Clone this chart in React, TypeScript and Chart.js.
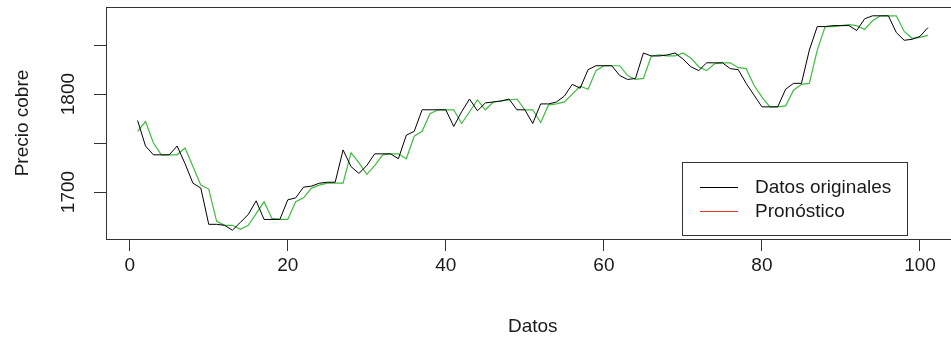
import React, { useEffect, useRef } from "react";
import { Chart, registerables } from "chart.js";

Chart.register(...registerables);

// Serie original (precio del cobre), índices 1..101
const ORIGINAL: number[] = [
  1773, 1747, 1738, 1738, 1738, 1747, 1729, 1709, 1704, 1667,
  1667, 1666, 1661, 1669, 1677, 1691, 1672, 1672, 1672, 1692,
  1694, 1705, 1706, 1709, 1710, 1710, 1743, 1726, 1719, 1727,
  1739, 1739, 1739, 1734, 1758, 1762, 1784, 1784, 1784, 1784,
  1767, 1782, 1795, 1783, 1791, 1792, 1793, 1795, 1784, 1784,
  1770, 1790, 1790, 1792, 1798, 1810, 1806, 1825, 1829, 1829,
  1829, 1819, 1815, 1816, 1842, 1839, 1839, 1840, 1842, 1836,
  1828, 1824, 1832, 1832, 1832, 1826, 1825, 1811, 1799, 1787,
  1787, 1787, 1805, 1811, 1811, 1845, 1869, 1869, 1870, 1870,
  1870, 1865, 1877, 1880, 1880, 1880, 1863, 1855, 1856, 1859,
  1868,
];

// Pronóstico
const FORECAST: number[] = [
  1762, 1772, 1750, 1738, 1738, 1738, 1745, 1726, 1707, 1703,
  1670, 1666, 1666, 1662, 1666, 1678, 1690, 1673, 1672, 1672,
  1690, 1694, 1704, 1707, 1709, 1709, 1709, 1740, 1730, 1718,
  1727, 1738, 1739, 1739, 1734, 1757, 1762, 1780, 1784, 1784,
  1784, 1770, 1782, 1794, 1784, 1792, 1793, 1794, 1795, 1784,
  1784, 1771, 1789, 1790, 1792, 1800, 1808, 1805, 1824, 1829,
  1829, 1829, 1819, 1815, 1816, 1839, 1840, 1839, 1839, 1842,
  1837, 1828, 1824, 1831, 1832, 1832, 1827, 1826, 1809, 1797,
  1787, 1787, 1788, 1804, 1810, 1811, 1845, 1869, 1869, 1870,
  1871, 1870, 1866, 1875, 1880, 1880, 1880, 1864, 1857, 1858,
  1860,
];

const X_TICKS: number[] = [0, 20, 40, 60, 80, 100];
const Y_TICKS: number[] = [1700, 1750, 1800, 1850];
const Y_TICK_LABELS: string[] = ["1700", "", "1800", ""];

const SERIES_LABELS: string[] = ["Datos originales", "Pronóstico"];
const LINE_COLORS: string[] = ["#000000", "#40BA40"];
const LEGEND_COLORS: string[] = ["#000000", "#E0302E"];

const X_TITLE = "Datos";
const Y_TITLE = "Precio cobre";

const FONT = "'Liberation Sans', Arial, sans-serif";
const FS = 19;
const AXIS_COLOR = "#333333";
const TEXT_COLOR = "#1a1a1a";

export default function App() {
  const ref = useRef<HTMLCanvasElement | null>(null);

  useEffect(() => {
    const canvas = ref.current;
    if (!canvas) return;

    const boxPlugin = {
      id: "rbox",
      afterDraw(chart: any) {
        const { ctx, chartArea } = chart;
        const { left, top, right, bottom } = chartArea;
        ctx.save();
        ctx.strokeStyle = AXIS_COLOR;
        ctx.lineWidth = 1;
        ctx.strokeRect(Math.round(left) + 0.5, Math.round(top) + 0.5, Math.round(right - left), Math.round(bottom - top));

        // y tick labels, rotated (R style)
        const ys = chart.scales.y;
        ctx.fillStyle = TEXT_COLOR;
        ctx.font = `${FS}px ${FONT}`;
        ctx.textAlign = "center";
        ctx.textBaseline = "middle";
        ys.ticks.forEach((t: any) => {
          const lab = Y_TICK_LABELS[Y_TICKS.indexOf(t.value)] || "";
          if (!lab) return;
          const py = ys.getPixelForValue(t.value);
          ctx.save();
          ctx.translate(left - 37, py);
          ctx.rotate(-Math.PI / 2);
          ctx.fillText(lab, 0, 0);
          ctx.restore();
        });

        // legend (bottom right, inside plot)
        const lgRight = 907;
        const lgLeft = 682;
        const lgTop = 162;
        const lgBottom = 235;
        ctx.fillStyle = "#ffffff";
        ctx.fillRect(lgLeft, lgTop, lgRight - lgLeft, lgBottom - lgTop);
        ctx.strokeStyle = AXIS_COLOR;
        ctx.lineWidth = 1;
        ctx.strokeRect(lgLeft + 0.5, lgTop + 0.5, lgRight - lgLeft, lgBottom - lgTop);
        const rowY = [187, 211];
        SERIES_LABELS.forEach((lab, i) => {
          ctx.strokeStyle = LEGEND_COLORS[i];
          ctx.lineWidth = 1.2;
          ctx.beginPath();
          ctx.moveTo(700, rowY[i] + 0.5);
          ctx.lineTo(738, rowY[i] + 0.5);
          ctx.stroke();
          ctx.fillStyle = TEXT_COLOR;
          ctx.textAlign = "left";
          ctx.textBaseline = "middle";
          ctx.fillText(lab, 755, rowY[i] + 1);
        });
        ctx.restore();
      },
    };

    const chart = new Chart(canvas, {
      type: "line",
      data: {
        datasets: [
          {
            label: SERIES_LABELS[0],
            data: ORIGINAL.map((v, i) => ({ x: i + 1, y: v })),
            borderColor: LINE_COLORS[0],
            borderWidth: 1,
            pointRadius: 0,
            tension: 0,
            fill: false,
          },
          {
            label: SERIES_LABELS[1],
            data: FORECAST.map((v, i) => ({ x: i + 1, y: v })),
            borderColor: LINE_COLORS[1],
            borderWidth: 1.2,
            pointRadius: 0,
            tension: 0,
            fill: false,
          },
        ],
      },
      options: {
        animation: false,
        responsive: false,
        devicePixelRatio: 1,
        layout: { padding: { top: 7, right: 10.5, left: 0, bottom: 0 } },
        plugins: {
          legend: { display: false },
          tooltip: { enabled: false },
        },
        scales: {
          x: {
            type: "linear",
            min: -3,
            max: 105,
            afterFit: (s: any) => {
              s.height = 99;
            },
            afterBuildTicks: (s: any) => {
              s.ticks = X_TICKS.map((v) => ({ value: v }));
            },
            grid: {
              drawOnChartArea: false,
              drawTicks: true,
              tickLength: 12,
              color: AXIS_COLOR,
            },
            border: { display: false },
            ticks: {
              color: TEXT_COLOR,
              font: { family: FONT, size: FS },
              padding: 3,
              maxRotation: 0,
              autoSkip: false,
            },
            title: {
              display: true,
              text: X_TITLE,
              color: TEXT_COLOR,
              font: { family: FONT, size: FS },
              padding: { top: 2, bottom: 0 },
            },
          },
          y: {
            type: "linear",
            min: 1652,
            max: 1889,
            afterFit: (s: any) => {
              s.width = 106;
            },
            afterBuildTicks: (s: any) => {
              s.ticks = Y_TICKS.map((v) => ({ value: v }));
            },
            grid: {
              drawOnChartArea: false,
              drawTicks: true,
              tickLength: 12,
              color: AXIS_COLOR,
            },
            border: { display: false },
            ticks: { display: false },
            title: {
              display: true,
              text: Y_TITLE,
              color: TEXT_COLOR,
              font: { family: FONT, size: FS },
              padding: { top: 11, bottom: 0 },
            },
          },
        },
      },
      plugins: [boxPlugin],
    });

    return () => chart.destroy();
  }, []);

  return (
    <div style={{ position: "fixed", left: 0, top: 0, width: 970, height: 338, background: "#fff" }}>
      <canvas ref={ref} width={970} height={338} style={{ display: "block", width: 970, height: 338 }} />
    </div>
  );
}
